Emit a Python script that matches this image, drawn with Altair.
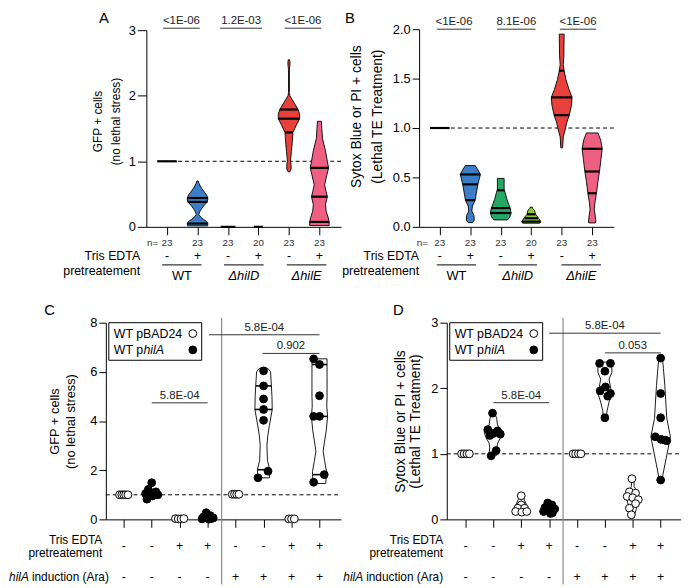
import altair as alt
import pandas as pd

FONT = "Liberation Sans"
W, H = 681, 580

# ================= Panel A : GFP + cells (no lethal stress) =================
A_n = [23, 23, 23, 20, 23, 23]
A_tris = ["-", "+", "-", "+", "-", "+"]
A_strains = ["WT", "ΔhilD", "ΔhilE"]
A_strain_from = [-0.16, 1.87, 3.93]
A_strain_to = [1.13, 3.17, 5.23]
A_pvals = ["<1E-06", "1.2E-03", "<1E-06"]
A_p_from = [-0.13, 1.74, 3.86]
A_p_to = [1.07, 3.12, 5.06]
A_p_level = [3.03, 3.03, 3.03]
# violin outlines: value level and half-width (in group-spacing units)
A_wt_te_val = [0.015, 0.05, 0.08, 0.14, 0.19, 0.24, 0.32, 0.38, 0.44, 0.49, 0.59, 0.66, 0.70]
A_wt_te_hw = [0.33, 0.34, 0.30, 0.12, 0.04, 0.08, 0.20, 0.32, 0.34, 0.29, 0.13, 0.05, 0.02]
A_hile_val = [0.84, 0.88, 0.95, 1.00, 1.15, 1.30, 1.44, 1.55, 1.65, 1.72, 1.79, 1.90, 2.00, 2.05, 2.40, 2.46, 2.51, 2.55]
A_hile_hw = [0.03, 0.07, 0.07, 0.05, 0.08, 0.11, 0.13, 0.24, 0.35, 0.35, 0.30, 0.16, 0.03, 0.015, 0.015, 0.03, 0.035, 0.02]
A_hile_te_val = [0.02, 0.075, 0.14, 0.24, 0.34, 0.46, 0.54, 0.64, 0.80, 0.90, 1.00, 1.16, 1.35, 1.50, 1.61]
A_hile_te_hw = [0.32, 0.32, 0.29, 0.22, 0.20, 0.26, 0.22, 0.17, 0.25, 0.30, 0.26, 0.20, 0.10, 0.08, 0.065]
# median / quartile lines
A_line_pos = [0, 1, 1, 1, 2, 3, 4, 4, 4, 5, 5, 5]
A_line_val = [1.0, 0.44, 0.38, 0.05, 0.0, 0.0, 1.79, 1.65, 1.44, 0.90, 0.46, 0.075]
A_line_hw = [0.32, 0.34, 0.32, 0.33, 0.24, 0.15, 0.30, 0.35, 0.13, 0.30, 0.26, 0.32]

# ================= Panel B : Sytox Blue or PI + cells =================
B_n = [23, 23, 23, 20, 23, 23]
B_tris = ["-", "+", "-", "+", "-", "+"]
B_strains = ["WT", "ΔhilD", "ΔhilE"]
B_strain_from = [-0.10, 1.92, 3.99]
B_strain_to = [1.19, 3.19, 5.29]
B_pvals = ["<1E-06", "8.1E-06", "<1E-06"]
B_p_from = [-0.10, 1.88, 3.94]
B_p_to = [1.03, 3.14, 5.13]
B_p_level = [2.0, 2.0, 2.0]
B_wt_te_val = [0.043, 0.067, 0.115, 0.16, 0.21, 0.27, 0.343, 0.43, 0.53, 0.577, 0.62]
B_wt_te_hw = [0.07, 0.13, 0.12, 0.05, 0.07, 0.16, 0.20, 0.25, 0.33, 0.25, 0.16]
B_hild_val = [0.07, 0.10, 0.14, 0.19, 0.22, 0.28, 0.35, 0.38, 0.49]
B_hild_hw = [0.22, 0.30, 0.34, 0.31, 0.27, 0.20, 0.14, 0.11, 0.11]
B_hild_te_val = [0.037, 0.053, 0.093, 0.127, 0.15, 0.167, 0.185, 0.20]
B_hild_te_hw = [0.28, 0.31, 0.23, 0.14, 0.12, 0.11, 0.05, 0.03]
B_hile_val = [0.80, 0.91, 0.99, 1.06, 1.13, 1.23, 1.31, 1.39, 1.49, 1.58, 1.64, 1.73, 1.95]
B_hile_hw = [0.03, 0.05, 0.12, 0.17, 0.25, 0.32, 0.34, 0.24, 0.14, 0.08, 0.05, 0.07, 0.08]
B_hile_te_val = [0.04, 0.06, 0.11, 0.177, 0.243, 0.34, 0.46, 0.56, 0.69, 0.79, 0.877, 0.95]
B_hile_te_hw = [0.11, 0.12, 0.10, 0.07, 0.09, 0.14, 0.19, 0.24, 0.29, 0.33, 0.28, 0.19]
B_line_pos = [0, 1, 1, 1, 2, 2, 2, 3, 3, 3, 4, 4, 4, 5, 5, 5]
B_line_val = [1.0, 0.53, 0.43, 0.27, 0.37, 0.19, 0.14, 0.127, 0.087, 0.053, 1.58, 1.31, 1.13, 0.79, 0.56, 0.34]
B_line_hw = [0.32, 0.33, 0.25, 0.16, 0.12, 0.31, 0.34, 0.14, 0.22, 0.31, 0.08, 0.34, 0.25, 0.33, 0.24, 0.14]

VIOLIN_GROUPS = ["WT +", "ΔhilD -", "ΔhilD +", "ΔhilE -", "ΔhilE +"]
VIOLIN_COLORS = ["#3b7dc6", "#25a866", "#8dc641", "#e8413c", "#ef5f82"]

# ================= Panels C / D : pBAD24 vs philA =================
SERIES = ["WT pBAD24", "WT philA"]
CD_tris = ["-", "-", "+", "+", "-", "-", "+", "+"]
CD_ara = ["-", "-", "-", "-", "+", "+", "+", "+"]

C_pt_val = [
    [1.0, 1.0, 1.0, 1.0, 1.0],
    [1.49, 1.22, 1.12, 1.05, 1.0, 0.95, 0.82],
    [0.03, 0.02, 0.02, 0.03],
    [0.27, 0.15, 0.10, 0.06, 0.04, 0.02, 0.03, 0.01],
    [1.02, 1.02, 1.02, 1.02],
    [6.04, 5.43, 4.90, 4.47, 4.03, 1.96, 1.69],
    [0.02, 0.02, 0.02],
    [6.53, 6.30, 5.03, 4.19, 4.19, 1.82, 1.51],
]
C_pt_dx = [
    [-0.15, -0.07, 0.0, 0.07, 0.15],
    [0.0, -0.12, 0.15, -0.22, 0.22, 0.02, -0.17],
    [-0.15, -0.05, 0.05, 0.15],
    [-0.05, 0.10, -0.15, 0.20, 0.0, -0.20, 0.12, 0.05],
    [-0.12, -0.04, 0.04, 0.12],
    [0.0, 0.0, 0.0, 0.0, 0.0, 0.16, -0.20],
    [-0.10, 0.0, 0.10],
    [-0.21, 0.0, 0.0, -0.21, 0.0, 0.17, -0.21],
]
C_v5_val = [1.69, 2.02, 2.40, 3.00, 3.40, 3.83, 4.47, 5.00, 5.43, 6.00, 6.12, 6.17]
C_v5_hw = [0.21, 0.22, 0.14, 0.12, 0.15, 0.21, 0.31, 0.30, 0.28, 0.25, 0.17, 0.08]
C_v7_val = [1.46, 1.82, 1.95, 2.40, 2.76, 3.02, 3.60, 4.19, 4.60, 5.00, 5.80, 6.30, 6.53]
C_v7_hw = [0.22, 0.25, 0.25, 0.18, 0.13, 0.16, 0.24, 0.29, 0.26, 0.27, 0.27, 0.27, 0.27]
C_line_pos = [5, 5, 5, 7, 7, 7]
C_line_val = [5.43, 4.47, 2.02, 6.30, 4.19, 1.82]
C_line_hw = [0.28, 0.31, 0.22, 0.27, 0.29, 0.25]
C_pvals = ["5.8E-04", "5.8E-04", "0.902"]
C_p_from = [1.0, 3.05, 4.96]
C_p_to = [3.0, 7.0, 7.0]
C_p_level = [4.74, 7.51, 6.75]

D_pt_val = [
    [1.0, 1.0, 1.0, 1.0],
    [1.62, 1.37, 1.35, 1.31, 1.28, 1.30, 1.05, 0.97],
    [0.36, 0.22, 0.17, 0.17, 0.12, 0.11, 0.12],
    [0.25, 0.22, 0.18, 0.16, 0.14, 0.12, 0.10, 0.09],
    [1.0, 1.0, 1.0, 1.0],
    [2.38, 2.38, 2.26, 2.02, 1.96, 1.92, 1.88, 1.55],
    [0.62, 0.42, 0.40, 0.35, 0.33, 0.30, 0.24, 0.17, 0.07],
    [2.46, 1.92, 1.55, 1.26, 1.22, 1.21, 1.20, 0.60],
]
D_pt_dx = [
    [-0.14, -0.05, 0.05, 0.14],
    [-0.03, -0.20, 0.15, 0.0, -0.12, 0.25, 0.10, -0.08],
    [0.0, 0.0, -0.12, 0.12, -0.20, 0.02, 0.20],
    [-0.05, 0.10, -0.15, 0.20, 0.0, -0.20, 0.12, 0.05],
    [-0.14, -0.05, 0.05, 0.14],
    [-0.19, 0.20, 0.0, 0.02, -0.17, 0.20, 0.10, 0.0],
    [-0.03, -0.12, 0.10, -0.20, 0.0, 0.20, 0.10, -0.12, -0.05],
    [0.0, 0.0, 0.0, -0.19, 0.02, 0.15, 0.22, 0.0],
]
D_v1_val = [0.97, 1.01, 1.09, 1.16, 1.26, 1.34, 1.44, 1.54, 1.62]
D_v1_hw = [0.10, 0.15, 0.13, 0.15, 0.28, 0.33, 0.15, 0.12, 0.05]
D_v2_val = [0.08, 0.13, 0.21, 0.31, 0.38]
D_v2_hw = [0.18, 0.22, 0.20, 0.10, 0.05]
D_v5_val = [1.55, 1.66, 1.79, 1.92, 2.02, 2.14, 2.24, 2.40]
D_v5_hw = [0.05, 0.08, 0.15, 0.25, 0.20, 0.15, 0.25, 0.25]
D_v6_val = [0.06, 0.15, 0.25, 0.33, 0.42, 0.50, 0.62]
D_v6_hw = [0.06, 0.12, 0.18, 0.22, 0.16, 0.05, 0.04]
D_v7_val = [0.59, 0.68, 0.83, 1.04, 1.26, 1.54, 2.04, 2.30, 2.47]
D_v7_hw = [0.05, 0.08, 0.15, 0.25, 0.35, 0.22, 0.15, 0.10, 0.06]
D_line_pos = [1, 5]
D_line_val = [1.31, 2.02]
D_line_hw = [0.28, 0.18]
D_pvals = ["5.8E-04", "5.8E-04", "0.053"]
D_p_from = [1.0, 3.0, 5.0]
D_p_to = [3.0, 7.0, 7.0]
D_p_level = [1.78, 2.84, 2.54]

# ================= layout (plot-area pixel ranges of each panel) =================
G = {
    "A": dict(xd=[-0.68, 5.71], xr=[140, 337], yd=[0, 3], yr=[218, 19]),
    "B": dict(xd=[-0.68, 5.71], xr=[416, 613], yd=[0, 2], yr=[218, 18]),
    "C": dict(xd=[-0.64, 7.77], xr=[99, 337], yd=[0, 8], yr=[514, 315]),
    "D": dict(xd=[-0.67, 7.73], xr=[444, 681], yd=[0, 3], yr=[514, 315]),
}


def xsc(p):
    g = G[p]
    return alt.Scale(domain=g["xd"], range=g["xr"], nice=False, zero=False)


def ysc(p):
    g = G[p]
    return alt.Scale(domain=g["yd"], range=g["yr"], nice=False, zero=False)


def sx(p, f):
    return alt.X(f"{f}:Q", scale=xsc(p), axis=None, stack=None)


def sy(p, f):
    return alt.Y(f"{f}:Q", scale=ysc(p), axis=None, stack=None)


def txt(size, **kw):
    d = dict(font=FONT, fontSize=size, color="black")
    d.update(kw)
    return d


def axes_layer(p, nticks, dash_from, ytitle, yvals, yfmt, tsize, tlh, tpad, title_y=None, ytick=7):
    g = G[p]
    df = pd.DataFrame({"v": [1.0], "x0": [dash_from], "x1": [g["xd"][1]]})
    yax = dict(orient="left", offset=-g["xr"][0], values=yvals, format=yfmt, grid=False,
               tickSize=ytick, tickColor="black", domainColor="black", labelColor="black",
               labelFont=FONT, labelFontSize=13, labelPadding=2, title=ytitle,
               titleFont=FONT, titleFontSize=tsize, titleFontWeight="normal",
               titleColor="black", titleLineHeight=tlh, titlePadding=tpad)
    if title_y is not None:
        yax["titleY"] = title_y
    return alt.Chart(df).mark_rule(strokeDash=[4, 3], color="black", strokeWidth=1).encode(
        x=alt.X("x0:Q", scale=xsc(p), title=None,
                axis=alt.Axis(orient="bottom", offset=g["yr"][0] - H, values=list(range(nticks)),
                              labels=False, ticks=True, tickSize=8, tickColor="black",
                              domainColor="black", grid=False)),
        x2="x1:Q",
        y=alt.Y("v:Q", scale=ysc(p), axis=alt.Axis(**yax)),
    )


def violin_df(specs):
    return pd.concat([pd.DataFrame({"grp": g, "pos": pos, "v": val, "hw": hw})
                      for g, pos, val, hw in specs], ignore_index=True)


def violin_layer(p, df, colored):
    ch = alt.Chart(df).transform_calculate(lo="datum.pos - datum.hw", hi="datum.pos + datum.hw")
    enc = dict(y=sy(p, "v"), x=sx(p, "lo"), x2="hi:Q")
    if colored:
        mk = ch.mark_area(orient="horizontal", stroke="black", strokeWidth=0.9, opacity=1)
        enc["color"] = alt.Color("grp:N", scale=alt.Scale(domain=VIOLIN_GROUPS, range=VIOLIN_COLORS), legend=None)
    else:
        mk = ch.mark_area(orient="horizontal", stroke="black", strokeWidth=0.9, fill="white", opacity=1)
        enc["detail"] = "grp:N"
    return mk.encode(**enc)


def lines_layer(p, pos, val, hw, width):
    df = pd.DataFrame({"pos": pos, "v": val, "hw": hw})
    return alt.Chart(df).transform_calculate(lo="datum.pos - datum.hw", hi="datum.pos + datum.hw").mark_rule(
        color="black", strokeWidth=width).encode(y=sy(p, "v"), x=sx(p, "lo"), x2="hi:Q")


def pval_layers(p, labels, frm, to, level, size):
    df = pd.DataFrame({"t": labels, "a": frm, "b": to, "v": level})
    rule = alt.Chart(df).mark_rule(color="#333333", strokeWidth=1).encode(
        x=sx(p, "a"), x2="b:Q", y=sy(p, "v"))
    text = alt.Chart(df).transform_calculate(m="(datum.a + datum.b) / 2").mark_text(
        dy=-7, **txt(size, color="#222222")).encode(x=sx(p, "m"), y=sy(p, "v"), text="t:N")
    return [rule, text]


def row_text(p, xs, labels, ypx, size, **kw):
    df = pd.DataFrame({"x": xs, "t": labels})
    return alt.Chart(df).mark_text(**txt(size, **kw)).encode(x=sx(p, "x"), y=alt.value(ypx), text="t:N")


def letter(l, xpx, ypx):
    return alt.Chart(pd.DataFrame({"t": [l]})).mark_text(**txt(15, align="center", baseline="top")).encode(
        x=alt.value(xpx), y=alt.value(ypx), text="t:N")


def panel_ab(p, violins, lpos, lval, lhw, n, tris, strains, s_from, s_to, pv, p_from, p_to, p_lvl,
             ytitle, yvals, yfmt, tsize, tlh, tpad, title_y, n_x, lab_x, let_x, ytick):
    layers = [axes_layer(p, 6, -0.32, ytitle, yvals, yfmt, tsize, tlh, tpad, title_y, ytick),
              violin_layer(p, violin_df(violins), True),
              lines_layer(p, lpos, lval, lhw, 2.2)]
    layers += pval_layers(p, pv, p_from, p_to, p_lvl, 11.5)
    idx = list(range(6))
    layers.append(row_text(p, idx, [str(v) for v in n], 234, 10, color="#333333"))
    layers.append(row_text(p, [n_x], ["n="], 234, 10, align="right", color="#333333"))
    layers.append(row_text(p, idx, tris, 248, 12.5))
    layers.append(row_text(p, [lab_x], ["Tris EDTA"], 248, 12.5, align="right"))
    layers.append(row_text(p, [lab_x], ["pretreatement"], 263, 12.5, align="right"))
    sdf = pd.DataFrame({"a": s_from, "b": s_to})
    layers.append(alt.Chart(sdf).mark_rule(color="black", strokeWidth=1).encode(
        x=sx(p, "a"), x2="b:Q", y=alt.value(256.5)))
    mids = [(a + b) / 2 for a, b in zip(s_from, s_to)]
    layers.append(row_text(p, mids[:1], strains[:1], 268, 13))
    layers.append(row_text(p, mids[1:], strains[1:], 268, 13, fontStyle="italic"))
    layers.append(letter(p, let_x, 0))
    return layers


def points_df(vals, dxs):
    rows = []
    for pos, (vv, dd) in enumerate(zip(vals, dxs)):
        for v, d in zip(vv, dd):
            rows.append({"pos": pos, "v": v, "dx": d, "series": SERIES[pos % 2]})
    return pd.DataFrame(rows)


FILL_SCALE = dict(domain=SERIES, range=["white", "black"])


def legend_layers(box_x0, box_x1, box_y0, box_y1, text_x, sym_x, row_y):
    box = alt.Chart(pd.DataFrame({"k": [0]})).mark_rect(fill="white", stroke="black", strokeWidth=1).encode(
        x=alt.value(box_x0), x2=alt.value(box_x1), y=alt.value(box_y0), y2=alt.value(box_y1))
    ldf = pd.DataFrame({"series": SERIES, "row": [0, 1]})
    rowy = alt.Y("row:Q", scale=alt.Scale(domain=[0, 1], range=row_y), axis=None)
    sym = alt.Chart(ldf).mark_point(shape="circle", filled=True, size=62, stroke="black",
                                    strokeWidth=1, opacity=1).encode(
        x=alt.value(sym_x), y=rowy,
        fill=alt.Fill("series:N", scale=alt.Scale(**FILL_SCALE), legend=None))
    t1 = alt.Chart(pd.DataFrame({"t": ["WT pBAD24"]})).mark_text(**txt(12.5, align="left")).encode(
        x=alt.value(text_x), y=alt.value(row_y[0]), text="t:N")
    t2 = alt.Chart(pd.DataFrame({"t": ["WT p"]})).mark_text(**txt(12.5, align="left")).encode(
        x=alt.value(text_x), y=alt.value(row_y[1]), text="t:N")
    t3 = alt.Chart(pd.DataFrame({"t": ["hilA"]})).mark_text(**txt(12.5, align="left", fontStyle="italic")).encode(
        x=alt.value(text_x + 30), y=alt.value(row_y[1]), text="t:N")
    return [box, sym, t1, t2, t3]


def panel_cd(p, violins, lpos, lval, lhw, pts_v, pts_dx, pv, p_from, p_to, p_lvl,
             ytitle, yvals, tsize, tlh, tpad, lab_x, ara_x, let_x, leg_x):
    g = G[p]
    layers = [axes_layer(p, 8, g["xd"][0], ytitle, yvals, "d", tsize, tlh, tpad)]
    layers.append(alt.Chart(pd.DataFrame({"x": [3.5]})).mark_rule(color="#8a8a8a", strokeWidth=1.2).encode(
        x=sx(p, "x"), y=alt.value(310), y2=alt.value(H)))
    layers.append(violin_layer(p, violin_df(violins), False))
    layers.append(lines_layer(p, lpos, lval, lhw, 1.6))
    pts = points_df(pts_v, pts_dx)
    layers.append(alt.Chart(pts).transform_calculate(xp="datum.pos + datum.dx").mark_point(
        shape="circle", filled=True, size=62, stroke="black", strokeWidth=1, opacity=1).encode(
        x=sx(p, "xp"), y=sy(p, "v"),
        fill=alt.Fill("series:N", scale=alt.Scale(**FILL_SCALE), legend=None)))
    layers += pval_layers(p, pv, p_from, p_to, p_lvl, 11.5)
    layers += legend_layers(leg_x, leg_x + 94, 315, 353, leg_x + 5, leg_x + 85, [326, 342.5])
    idx = list(range(8))
    layers.append(row_text(p, idx, CD_tris, 541.3, 12.5))
    layers.append(row_text(p, idx, CD_ara, 572.7, 12.5))
    layers.append(row_text(p, [lab_x], ["Tris EDTA"], 535, 12, align="right"))
    layers.append(row_text(p, [lab_x], ["pretreatement"], 548.5, 12, align="right"))
    layers.append(row_text(p, [ara_x], ["induction (Ara)"], 572.7, 12, align="right"))
    layers.append(row_text(p, [ara_x], ["hilA"], 572.7, 12, align="right", fontStyle="italic", dx=-81))
    layers.append(letter(p, let_x, 295))
    return layers


layersA = panel_ab(
    "A",
    [("WT +", 1, A_wt_te_val, A_wt_te_hw), ("ΔhilE -", 4, A_hile_val, A_hile_hw),
     ("ΔhilE +", 5, A_hile_te_val, A_hile_te_hw)],
    A_line_pos, A_line_val, A_line_hw, A_n, A_tris, A_strains, A_strain_from, A_strain_to,
    A_pvals, A_p_from, A_p_to, A_p_level,
    ["GFP + cells", "(no lethal stress)"], [0, 1, 2, 3], "d", 12, 18, 6, 111, -0.29, -0.884, 97, 9)

layersB = panel_ab(
    "B",
    [("WT +", 1, B_wt_te_val, B_wt_te_hw), ("ΔhilD -", 2, B_hild_val, B_hild_hw),
     ("ΔhilD +", 3, B_hild_te_val, B_hild_te_hw), ("ΔhilE -", 4, B_hile_val, B_hile_hw),
     ("ΔhilE +", 5, B_hile_te_val, B_hile_te_hw)],
    B_line_pos, B_line_val, B_line_hw, B_n, B_tris, B_strains, B_strain_from, B_strain_to,
    B_pvals, B_p_from, B_p_to, B_p_level,
    ["Sytox Blue or PI + cells", "(Lethal TE Treatment)"], [0, 0.5, 1.0, 1.5, 2.0], ".1f",
    14, 21, 8, 106, -0.39, -0.68, 346, 7)

layersC = panel_cd(
    "C",
    [("c5", 5, C_v5_val, C_v5_hw), ("c7", 7, C_v7_val, C_v7_hw)],
    C_line_pos, C_line_val, C_line_hw, C_pt_val, C_pt_dx,
    C_pvals, C_p_from, C_p_to, C_p_level,
    ["GFP + cells", "(no lethal stress)"], [0, 2, 4, 6, 8], 13, 17, 12, -0.77, -0.53, 42, 102)

layersD = panel_cd(
    "D",
    [("d1", 1, D_v1_val, D_v1_hw), ("d2", 2, D_v2_val, D_v2_hw), ("d5", 5, D_v5_val, D_v5_hw),
     ("d6", 6, D_v6_val, D_v6_hw), ("d7", 7, D_v7_val, D_v7_hw)],
    D_line_pos, D_line_val, D_line_hw, D_pt_val, D_pt_dx,
    D_pvals, D_p_from, D_p_to, D_p_level,
    ["Sytox Blue or PI + cells", "(Lethal TE Treatment)"], [0, 1, 2, 3], 14, 16, 8, -0.80, -0.80, 395, 447)

chart = alt.layer(*(layersA + layersB + layersC + layersD)).resolve_scale(
    x="independent", y="independent", color="independent", fill="independent"
).resolve_axis(x="independent", y="independent").properties(
    width=W, height=H, padding=0, autosize=alt.AutoSizeParams(type="none")
).configure_view(strokeWidth=0)

chart.save("out.html", embed_options={"renderer": "svg", "actions": False})
